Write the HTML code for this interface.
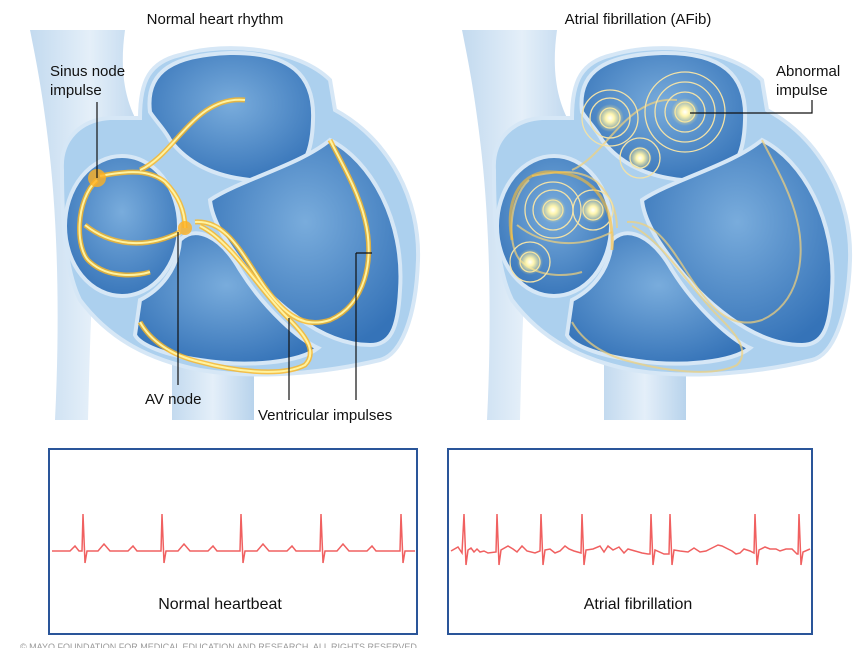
<!DOCTYPE html>
<html><head><style>
body{margin:0;background:#fff;width:864px;height:648px;overflow:hidden;font-family:"Liberation Sans",sans-serif}
</style></head><body>
<svg width="864" height="648" viewBox="0 0 864 648" xmlns="http://www.w3.org/2000/svg" font-family="Liberation Sans, sans-serif">
<defs>
<radialGradient id="ch" cx="50%" cy="40%" r="65%"><stop offset="0" stop-color="#79acdc"/><stop offset="1" stop-color="#3573b8"/></radialGradient>
<radialGradient id="glow" r="50%"><stop offset="0" stop-color="#fff"/><stop offset="0.3" stop-color="#fff6b0"/><stop offset="1" stop-color="#ffe680" stop-opacity="0"/></radialGradient>
<linearGradient id="ves" x1="0" x2="1"><stop offset="0" stop-color="#c3daef"/><stop offset="0.5" stop-color="#e4eff9"/><stop offset="1" stop-color="#b8d3ec"/></linearGradient>
<g id="heart">
<path d="M30 30 L125 30 C118 80 128 115 150 140 L100 200 C92 260 90 340 88 420 L55 420 C60 320 58 220 48 140 C42 90 36 60 30 30 Z" fill="url(#ves)"/>
<rect x="172" y="330" width="82" height="90" fill="url(#ves)"/>
<path d="M62 170 C60 140 80 120 110 118 L140 118 C140 80 150 62 180 55 C230 40 300 50 330 80 L335 110 C390 140 420 200 418 260 C416 320 400 355 380 360 C330 372 260 380 200 370 C150 360 110 340 80 300 C65 270 62 220 62 170 Z" fill="#acd0ee" stroke="#d6e7f6" stroke-width="4"/>
<ellipse cx="122" cy="226" rx="57" ry="70" fill="url(#ch)" stroke="#d6e7f6" stroke-width="4"/>
<path d="M150 112 C145 70 175 55 230 53 C290 52 315 75 313 120 C312 160 300 185 250 180 C210 176 185 160 170 140 C165 130 155 120 150 112 Z" fill="url(#ch)" stroke="#d6e7f6" stroke-width="4"/>
<path d="M210 200 C240 180 300 165 330 140 C370 160 405 220 400 290 C398 330 390 345 370 345 C320 345 270 300 240 260 C225 240 212 220 210 200 Z" fill="url(#ch)" stroke="#d6e7f6" stroke-width="4"/>
<path d="M180 240 C195 225 220 235 240 270 C265 310 300 340 318 348 C300 362 250 368 200 360 C165 355 140 345 135 335 L140 300 C160 290 178 270 180 240 Z" fill="url(#ch)" stroke="#d6e7f6" stroke-width="4"/>
</g>
<g id="path">
<path d="M100 176 C130 170 150 170 165 182 C178 195 185 210 185 228"/>
<path d="M140 170 C175 155 195 95 245 100"/>
<path d="M97 180 C75 200 75 250 90 262 C110 280 140 275 150 272"/>
<path d="M85 225 C110 245 145 250 180 232"/>
<path d="M195 222 C225 220 240 250 260 280 C280 310 300 330 330 320 C365 305 375 260 365 220 C358 190 340 160 330 140"/>
<path d="M200 226 C230 240 260 290 285 315 C300 330 320 350 305 365 C280 378 230 370 200 362 C170 355 150 340 140 322"/>
</g>
</defs>
<text x="215" y="24" font-size="15" text-anchor="middle" fill="#111">Normal heart rhythm</text>
<text x="638" y="24" font-size="15" text-anchor="middle" fill="#111">Atrial fibrillation (AFib)</text>
<use href="#heart"/>
<use href="#heart" x="432"/>
<use href="#path" fill="none" stroke="#ffb820" stroke-width="5" opacity="0.8"/>
<use href="#path" fill="none" stroke="#fff3a0" stroke-width="2"/>
<circle cx="97" cy="178" r="9" fill="#ffb020" opacity="0.8"/>
<circle cx="185" cy="228" r="7" fill="#ffb020" opacity="0.8"/>
<use href="#path" x="432" fill="none" stroke="#f3d27a" stroke-width="2" opacity="0.7"/>
<g fill="none" stroke="#f2e2a8" stroke-width="1.3">
<circle cx="685" cy="112" r="10"/><circle cx="685" cy="112" r="20"/><circle cx="685" cy="112" r="30"/><circle cx="685" cy="112" r="40"/>
<circle cx="610" cy="118" r="10"/><circle cx="610" cy="118" r="20"/><circle cx="610" cy="118" r="28"/>
<circle cx="640" cy="158" r="10"/><circle cx="640" cy="158" r="20"/>
<circle cx="553" cy="210" r="10"/><circle cx="553" cy="210" r="20"/><circle cx="553" cy="210" r="28"/>
<circle cx="593" cy="210" r="10"/><circle cx="593" cy="210" r="20"/>
<circle cx="530" cy="262" r="10"/><circle cx="530" cy="262" r="20"/>
</g>
<path d="M512 240 C505 200 520 175 545 172 C590 170 615 200 612 250" fill="none" stroke="#ffbe30" stroke-width="3" opacity="0.6"/>
<g fill="url(#glow)">
<circle cx="685" cy="112" r="14"/><circle cx="610" cy="118" r="14"/><circle cx="640" cy="158" r="12"/>
<circle cx="553" cy="210" r="13"/><circle cx="593" cy="210" r="13"/><circle cx="530" cy="262" r="13"/>
</g>
<g stroke="#111" stroke-width="1.2" fill="none">
<path d="M97 102 L97 178"/>
<path d="M178 232 L178 385"/>
<path d="M289 318 L289 400"/>
<path d="M356 253 L372 253 M356 253 L356 400"/>
<path d="M690 113 L812 113 L812 100"/>
</g>
<g font-size="15" fill="#111">
<text x="50" y="76">Sinus node</text><text x="50" y="95">impulse</text>
<text x="145" y="404">AV node</text>
<text x="258" y="420">Ventricular impulses</text>
<text x="776" y="76">Abnormal</text><text x="776" y="95">impulse</text>
</g>
<rect x="49" y="449" width="368" height="185" fill="#fff" stroke="#2a5599" stroke-width="2"/>
<rect x="448" y="449" width="364" height="185" fill="#fff" stroke="#2a5599" stroke-width="2"/>
<g fill="none" stroke="#f06060" stroke-width="1.5">
<path d="M52 551 L70 551 L75 546 L79 551 L82 551 L83 514 L85 563 L87 551 L98 551 L104 544 L110 551 L128 551 L133 546 L137 551 L161 551 L162 514 L164 563 L166 551 L178 551 L184 544 L190 551 L208 551 L213 546 L217 551 L240 551 L241 514 L243 563 L245 551 L257 551 L263 544 L269 551 L287 551 L292 546 L296 551 L320 551 L321 514 L323 563 L325 551 L337 551 L343 544 L349 551 L367 551 L372 546 L376 551 L400 551 L401 514 L403 563 L405 551 L415 551"/>
<path d="M451 551 L458 547 L462 553 L464 514 L466 565 L468 550 L471 548 L474 552 L477 549 L480 552 L484 551 L488 553 L496 552 L497 514 L499 565 L501 550 L508 546 L513 549 L517 552 L522 546 L527 551 L535 553 L540 551 L541 514 L543 565 L545 550 L550 549 L555 553 L560 551 L565 546 L569 549 L574 551 L581 553 L582 514 L584 565 L586 550 L593 549 L600 546 L604 552 L608 546 L613 550 L619 547 L624 553 L628 549 L635 551 L642 553 L648 554 L650 554 L651 514 L653 565 L655 550 L664 554 L669 554 L670 514 L672 565 L674 550 L680 551 L688 552 L694 548 L700 552 L706 551 L712 548 L718 545 L722 546 L728 549 L732 551 L736 554 L740 553 L744 549 L750 551 L754 553 L755 514 L757 565 L759 550 L765 547 L770 549 L776 549 L780 551 L786 549 L792 549 L797 554 L798 554 L799 514 L801 565 L803 552 L810 549"/>
</g>
<text x="220" y="609" font-size="16" text-anchor="middle" fill="#111">Normal heartbeat</text>
<text x="638" y="609" font-size="16" text-anchor="middle" fill="#111">Atrial fibrillation</text>
<text x="20" y="650" font-size="9" fill="#999">© MAYO FOUNDATION FOR MEDICAL EDUCATION AND RESEARCH. ALL RIGHTS RESERVED.</text>
</svg>
</body></html>
